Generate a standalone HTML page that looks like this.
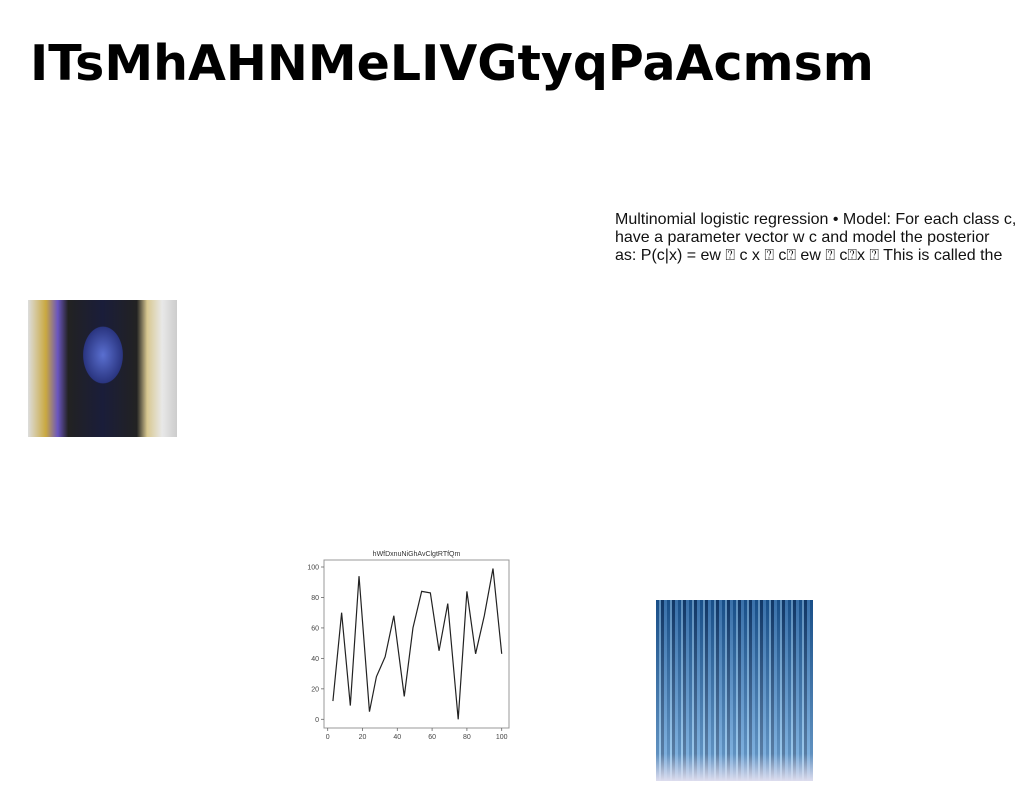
<!DOCTYPE html>
<html><head><meta charset="utf-8"><style>
body{margin:0;width:1024px;height:788px;background:#fff;position:relative;overflow:hidden;font-family:"Liberation Sans","DejaVu Sans",sans-serif}
h1{position:absolute;left:30px;top:36px;margin:0;font-family:"DejaVu Sans",sans-serif;font-weight:bold;font-size:49px;line-height:56px;color:#000;white-space:nowrap;letter-spacing:0}
#txt{position:absolute;left:615px;top:211px;width:409px;font-size:16px;line-height:18px;color:#111;white-space:nowrap}
#face{position:absolute;left:28px;top:300px;width:149px;height:137px;background:radial-gradient(ellipse 28px 40px at 75px 55px,#5a6fd0,#2a3580 70%,transparent 72%),linear-gradient(90deg,#ddd 0,#c9a840 12%,#6a55c0 20%,#222 27%,#1a1d3a 50%,#222 73%,#d8c890 80%,#e8e8e8 90%,#ccc 100%)}
#glass{position:absolute;left:656px;top:600px;width:157px;height:181px;background:linear-gradient(180deg,rgba(20,40,80,.3),rgba(200,220,240,.4) 85%,#dde 100%),repeating-linear-gradient(90deg,#1a5fa0 0 3px,#7ab8e8 3px 5px,#0e3d70 5px 8px,#4a90d0 8px 11px)}
</style></head><body>
<h1>ITsMhAHNMeLIVGtyqPaAcmsm</h1>
<div id="txt">Multinomial logistic regression • Model: For each class c,<br>have a parameter vector w c and model the posterior<br>as: P(c|x) = ew ⍰ c x ⍰ c⍰ ew ⍰ c⍰x ⍰ This is called the</div>
<div id="face"></div>
<div id="glass"></div>
<svg id="chart" style="position:absolute;left:0;top:0" width="1024" height="788"></svg>
<script>
const xs=[3,8,13,18,24,28,33,38,44,49,54,59,64,69,75,80,85,90,95,100];
const ys=[12,70,9,94,5,28,41,68,15,60,84,83,45,76,0,84,43,68,99,43];
const xTicks=[0,20,40,60,80,100];
const yTicks=[0,20,40,60,80,100];
const chartTitle="hWfDxnuNiGhAvClgtRTfQm";
const svg=document.getElementById('chart');const NS='http://www.w3.org/2000/svg';
const X=v=>327.7+v*1.74, Y=v=>719.3-v*1.523;
function mk(t,a,p){const e=document.createElementNS(NS,t);for(const k in a)e.setAttribute(k,a[k]);(p||svg).appendChild(e);return e;}
const frame=mk('rect',{x:324,y:560,width:185,height:168,fill:'#fff',stroke:'#999','stroke-width':1});


const tt=mk('text',{x:416.5,y:556,'font-size':7,'text-anchor':'middle',fill:'#333'});tt.textContent=chartTitle;


xTicks.forEach(v=>{mk('line',{x1:X(v),x2:X(v),y1:728,y2:731,stroke:'#666','stroke-width':.8});
const t=mk('text',{x:X(v),y:739,'font-size':7,'text-anchor':'middle',fill:'#444'});t.textContent=v;

});
yTicks.forEach(v=>{mk('line',{x1:321,x2:324,y1:Y(v),y2:Y(v),stroke:'#666','stroke-width':.8});
const t=mk('text',{x:319,y:Y(v)+2.5,'font-size':7,'text-anchor':'end',fill:'#444'});t.textContent=v;

});
const line=mk('polyline',{points:xs.map((x,i)=>X(x)+','+Y(ys[i])).join(' '),fill:'none',stroke:'#222','stroke-width':1.2});


</script>
</body></html>
